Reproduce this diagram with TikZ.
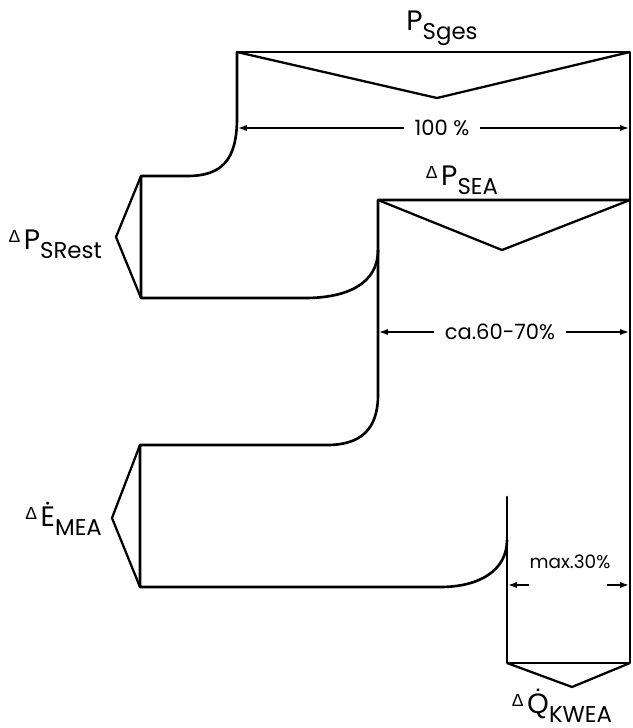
\documentclass[tikz,border=0pt]{standalone}
\usepackage{fontspec}
\setmainfont{Poppins}
\newfontfamily\greekfont{Liberation Sans}
\usetikzlibrary{arrows.meta}
% small raised delta and lowered subscript, as lettered on the drawing
\newcommand{\dlt}{\raisebox{0.45ex}{\greekfont\fontsize{10}{10}\selectfont Δ}\hspace{2pt}}
\newcommand{\lowsub}[1]{\raisebox{-0.6ex}{\fontsize{13}{13}\selectfont #1}}

\begin{document}
\begin{tikzpicture}[x=0.02cm, y=-0.02cm,
  flow/.style={line width=1.5pt, line join=round, line cap=round},
  chev/.style={line width=1.3pt, line join=miter},
  dim/.style={line width=0.8pt, -{Latex[length=5pt,width=3.5pt]}},
  lbl/.style={font=\fontsize{16}{16}\selectfont, inner sep=1pt},
  pct/.style={font=\fontsize{12}{12}\selectfont, inner sep=6pt},
]
\useasboundingbox (0,0) rectangle (633,728);

% outer frame of the total input and the cooling loss
\draw[flow] (237,52) -- (630,52) -- (630,663) -- (507,663) -- (507,497);
% branch of the rest losses
\draw[flow] (237,52) -- (237,118) .. controls (237,160) and (222,176) .. (187,176)
  -- (141,176) -- (141,298) -- (305,298) .. controls (345,298) and (378,285) .. (378,250);
% main branch and the branch of the mechanical energy
\draw[flow] (630,200) -- (378,200) -- (378,395) .. controls (378,430) and (360,445) .. (327,445)
  -- (140,445) -- (140,587) -- (440,587) .. controls (480,587) and (507,570) .. (507,540);

% chevrons
\draw[chev] (237,52) -- (437,98) -- (630,52);
\draw[chev] (378,200) -- (502,250) -- (630,200);
\draw[chev] (141,176) -- (116,237) -- (141,298);
\draw[chev] (140,445) -- (112,518) -- (140,587);
\draw[chev] (507,663) -- (572,687) -- (630,663);

% labels
\node[lbl] (psges) at (442,28) {P\lowsub{Sges}};
\node[lbl] (psea) at (462,180) {\dlt P\lowsub{SEA}};
\node[lbl, anchor=east] (psrest) at (104,244) {\dlt P\lowsub{SRest}};
\node[lbl, anchor=east] (emea) at (104,519) {\dlt Ė\lowsub{MEA}};
\node[lbl] (qkwea) at (562,706) {\dlt{\greekfont Q̇}\lowsub{KWEA}};

% dimension lines
\node[pct] (p100) at (442,128) {100 \%};
\coordinate (p100l) at (238,128);
\coordinate (p100r) at (629,128);
\draw[dim] (p100) -- (p100l);
\draw[dim] (p100) -- (p100r);

\node[pct] (p60) at (500,332) {ca.60-70\%};
\coordinate (p60l) at (379,332);
\coordinate (p60r) at (629,332);
\draw[dim] (p60) -- (p60l);
\draw[dim] (p60) -- (p60r);

\node[pct, font=\fontsize{10.5}{10.5}\selectfont] (p30) at (570,562) {max.30\%};
\coordinate (p30m) at (568,585);
\coordinate (p30l) at (508,585);
\coordinate (p30r) at (629,585);
\draw[dim, shorten <=22pt] (p30m) -- (p30l);
\draw[dim, shorten <=22pt] (p30m) -- (p30r);
\end{tikzpicture}
\end{document}
